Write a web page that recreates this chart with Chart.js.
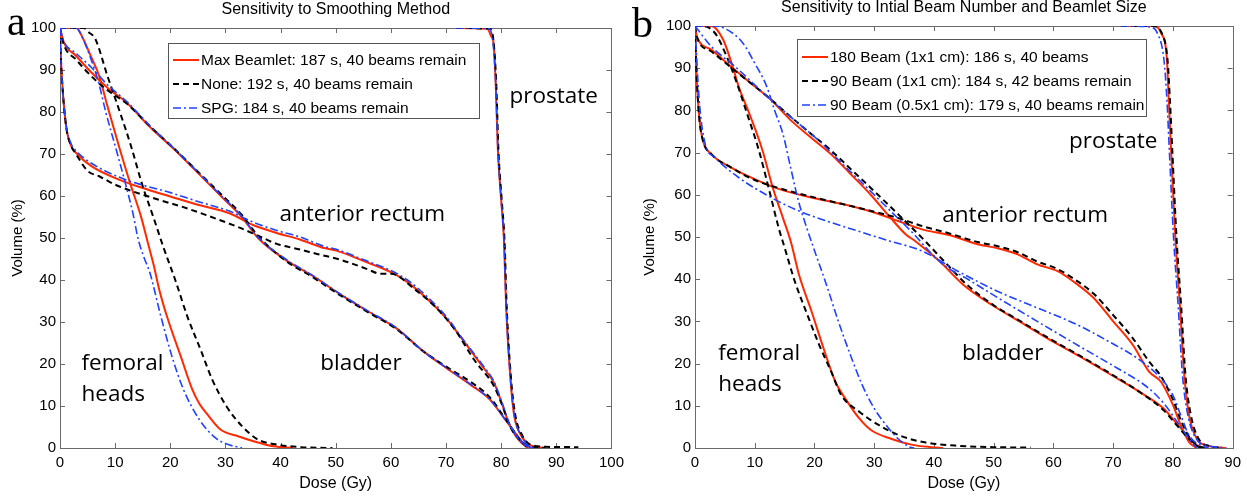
<!DOCTYPE html>
<html>
<head>
<meta charset="utf-8">
<script src="https://cdn.jsdelivr.net/npm/chart.js@4.4.0/dist/chart.umd.min.js"></script>
<style>
  body { margin: 0; background: #fff; width: 1247px; height: 498px; overflow: hidden; position: relative; }
  canvas { position: absolute; top: 0; }
  #chartA { left: 0; }
  #chartB { left: 630px; }
</style>
</head>
<body>
<canvas id="chartA" width="630" height="498"></canvas>
<canvas id="chartB" width="617" height="498"></canvas>
<script>
// legend texts and organ names
const seriesA = ['Max Beamlet: 187 s, 40 beams remain', 'None: 192 s, 40 beams remain', 'SPG: 184 s, 40 beams remain'];
const seriesB = ['180 Beam (1x1 cm): 186 s, 40 beams', '90 Beam (1x1 cm): 184 s, 42 beams remain', '90 Beam (0.5x1 cm): 179 s, 40 beams remain'];
const organs = ['prostate', 'anterior rectum', 'femoral heads', 'bladder'];
const doseMaxA = 100;
const doseMaxB = 90;

// panel a: [dose (Gy), volume (%)]
const aProstateMax = [[71.8,100],[77.5,99.8],[78.2,98],[78.6,96.6],[79,87],[79.4,71],[80,59],[80.5,49.6],[80.9,33.7],[81.6,17.9],[82.3,8.3],[83.7,2.8],[85.1,0.8],[88,0]];
const aProstateNone = [[71.8,100],[77.9,99.8],[78.6,97],[79.1,87],[79.5,71],[80.1,59],[80.6,49.6],[81,33.7],[81.7,17.9],[82.5,8.3],[83.9,2.8],[85.3,0.8],[88,0.3],[94,0.2]];
const aProstateSpg = [[71.8,100],[77.8,99.8],[78.5,96.6],[79,87],[79.4,71],[80,59],[80.5,49.6],[80.9,33.7],[81.6,17.9],[82.3,8.3],[83.7,2.8],[85,0.5],[86.5,0]];

const aRectumMax = [[0,100],[0.1,95],[0.4,87],[1.1,76.7],[2,72],[2.9,70.3],[5.7,67.1],[10.7,63.9],[15,61.9],[20,59.9],[25,57.9],[30.7,55.9],[35,53.1],[39.3,51.2],[43.6,49.6],[47.9,47.6],[50.1,47],[55.1,44.5],[60.1,41.8],[63,39.5],[66.6,35.5],[70.1,30.8],[73,25.8],[76.6,19.4],[78.7,15.5],[80.1,10.7],[81.6,5.2],[83.7,1.2],[85.5,0]];
const aRectumNone = [[0,100],[0.1,95],[0.4,87],[1.1,76.7],[2,72],[2.9,70],[5,66],[7.1,64.7],[10,62.7],[17.9,59.1],[22,57.5],[26.4,55.5],[32.1,52.7],[36,50.5],[39.3,48.6],[43.7,47.2],[46.6,46.2],[50.9,44.8],[55.9,42.5],[58,41.5],[60,41.5],[64.4,37.7],[68,33.7],[71.6,28.2],[75.1,21],[78.7,14.7],[80.1,10.5],[81.6,5.2],[83.7,1.5],[85.5,0.3],[88,0]];
const aRectumSpg = [[0,100],[0.1,95],[0.4,87],[1.1,77],[2,72.5],[2.9,70.8],[5.7,67.8],[10.7,64.5],[15,62.6],[20,60.8],[25,58.7],[30.7,56.4],[35,53.8],[39.3,51.8],[43.6,50.2],[47.9,48],[50.1,47.3],[55.1,44.8],[60.1,42.2],[63,40],[66.6,36],[70.1,31.2],[73,26],[76.6,19.8],[78.7,15.8],[80.1,11],[81.6,5.5],[83.7,1.3],[85.5,0]];

const aFemoralMax = [[0,100],[3,100],[3.6,99],[5.7,93],[7.1,88.6],[8.6,81.4],[10.7,71.8],[12.9,62.3],[14.6,55.5],[16,48.5],[17,43.5],[18,37.7],[19.4,31.3],[21.9,21.8],[24,13.9],[25.3,10.5],[26.8,7.9],[29.1,4.4],[32.3,2.8],[35.1,1.6],[38.7,0.4],[42.3,0]];
const aFemoralNone = [[0,100],[4.3,100],[5.2,99],[6.4,97.4],[8.6,88.6],[10.7,80.6],[12.9,71.8],[15,62.3],[16.9,55.1],[18.7,48],[20.9,40],[23.1,31.3],[25.5,23.4],[27.6,16.3],[30.2,9.9],[33,5.2],[35.9,2],[39.4,0.8],[43.7,0.2],[49.4,0]];
const aFemoralSpg = [[0,100],[3,100],[3.6,99],[5.5,93],[7,87],[8.3,80],[10.2,71],[12,62.3],[13.2,56],[14.2,49.6],[15.2,45.5],[16.3,41.7],[18.3,31.3],[20.3,21.8],[22.4,13.9],[25.3,6.7],[28.2,2.4],[30.1,1],[33,0]];

const aBladderMax = [[0,100],[0.7,96.6],[2.9,93.4],[5.7,89.4],[8.6,85.8],[12.1,82.2],[16.4,76.3],[20.7,71.1],[25,65.5],[29.3,59.8],[32.9,55.1],[35.9,50],[40.9,44.8],[45.9,40.9],[50.9,36.5],[55.9,32.5],[60.9,28.6],[65.9,23],[70.1,19],[74.4,15.1],[78,11.5],[80.1,7.9],[82.3,4],[83.7,1.6],[84.8,0]];
const aBladderNone = [[0,100],[0.7,96],[2.9,92.5],[5.7,88.5],[8.6,85.2],[12.1,82],[16.4,76.5],[20.7,71.3],[25,65.8],[29.3,60.3],[32.9,55.6],[35.9,50.5],[40.9,44.6],[45.9,40.6],[50.9,36.3],[55.9,32.3],[60.9,28.4],[65.9,23],[70.1,19.3],[74.4,15.8],[78,12],[80.1,8.2],[82.3,4],[83.7,1.5],[84.8,0]];
const aBladderSpg = [[0,100],[0.7,96.8],[2.9,94],[5.7,90.6],[8.6,86.5],[12.1,82.5],[16.4,76.6],[20.7,71.3],[25,65.7],[29.3,60],[32.9,55.3],[35.9,50.2],[40.9,45],[45.9,41],[50.9,36.6],[55.9,32.6],[60.9,28.7],[65.9,23],[70.1,19.1],[74.4,15.2],[78,11.5],[80.1,7.9],[82.3,4],[83.7,1.6],[84.8,0]];

// panel b: [dose (Gy), volume (%)]
const bProstate180 = [[71.3,100],[76.7,100],[78,98.4],[79,92],[79.3,82.5],[79.7,70.5],[80.4,50],[81.2,33.2],[81.9,17.3],[82.7,7.8],[84,2.2],[86,0.5],[88.7,0]];
const bProstate90 = [[71.3,100],[76.7,100],[78.1,98.4],[79.1,92],[79.5,82.5],[79.9,70.5],[80.6,50],[81.4,33.2],[82.1,17.3],[83,7.8],[84.3,2.2],[86.3,0.4],[88,0]];
const bProstate90Half = [[71.3,100],[76,99.8],[77.5,98],[78.5,92],[79,82.5],[79.4,70.5],[80.1,50],[80.9,33.2],[81.6,17.3],[82.5,7.8],[84,2],[86,0.5],[89,0]];

const bRectum180 = [[0,100],[0.2,90.4],[0.7,78.5],[1.3,73],[2.7,69.7],[6,66.5],[10,63.7],[14,61.4],[19.3,59.4],[24.7,57.8],[30,55.8],[34,53.8],[38,51.8],[42.7,50.4],[47.3,48.3],[50.7,47.3],[54,45.9],[57.3,43.5],[60.7,41.9],[63.3,39.5],[66.7,35.6],[70,30],[73.3,24.4],[76,18.1],[78,15.7],[80,10.2],[81.3,5.4],[82.7,1.4],[84,0]];
const bRectum90 = [[0,100],[0.2,90.4],[0.7,78.5],[1.3,73],[2.7,69.7],[6,66.5],[10,63.5],[14,61.6],[19.3,59.6],[24.7,57.8],[30,56],[34,54.5],[38,52.6],[42.7,50.8],[47.3,48.8],[50.7,47.8],[54,46.4],[57.3,44.2],[60.7,42.4],[63.3,40.2],[66.7,36.6],[70,31.5],[73.3,26],[76,20.5],[78,17],[80,11.5],[81.5,6],[83,2],[84.5,0.3],[86,0]];
const bRectum90Half = [[0,100],[0.7,82.5],[1.7,72.1],[3.3,68.9],[7.3,64.1],[12.7,59.4],[16.7,56.6],[22,53.8],[27.3,51.4],[32.7,49],[38,46.7],[44,41.9],[50.7,37.1],[57.3,33.2],[64,29.2],[69.3,25.2],[74,21.3],[78,16.5],[80,12.5],[81.3,7.8],[82.7,3],[84.7,0.6],[86,0]];

const bFemoral180 = [[0,100],[2.7,100],[4.7,96.8],[6.3,90.4],[7.3,85.7],[9.3,78.5],[11.3,70.5],[13,61.8],[14.7,54.6],[16.1,48.6],[17.4,41.1],[19.5,32.4],[21.5,23.7],[23.5,15.7],[25.5,11],[27.5,7],[29.5,4.2],[32.8,2.2],[36.2,0.8],[39.5,0.2],[41.5,0]];
const bFemoral90 = [[0,100],[1,100],[3.3,98.4],[5.3,92.8],[7,86.5],[8.7,79.3],[10.7,70.5],[12.3,61.8],[14,52.2],[15,47.5],[16.7,39.5],[18.8,31.6],[20.8,24.4],[22.8,18.1],[24.5,12.5],[27.5,8.6],[30.8,5.4],[34.2,3],[38.2,1.4],[44.2,0.5],[50,0.2],[56.2,0.1]];
const bFemoral90Half = [[0,100],[3.3,100],[5.3,99.2],[8,96],[10,91.2],[12,85.7],[13.3,80.1],[14.7,74.5],[16,66.5],[17.3,58.6],[18.7,52.2],[20,46.8],[22,38.7],[24,30],[26,22.1],[28,14.9],[30,9.4],[32,5.4],[34,2.2],[36,0.2],[36.7,0]];

const bBladder180 = [[0,100],[0.3,97.6],[2.7,94.4],[6,90.4],[9.3,86.5],[12.7,82.5],[16,77.7],[19.3,73.7],[22.7,69.7],[26,65],[29.3,60.2],[32.7,54.6],[35.3,50.6],[36.9,49],[40.9,44.3],[44.9,38.7],[49.6,34],[54.3,30],[59,26],[64.4,21.7],[69.7,17.3],[74.4,13.3],[78.4,9.4],[80.4,6.2],[82.4,3],[84.1,0.6],[84.8,0]];
const bBladder90 = [[0,100],[0.3,97.4],[2.7,94],[6,90.2],[9.3,86.5],[12.7,82.6],[16,78.5],[19.3,74.6],[22.7,70.6],[26,66.2],[29.3,61.8],[34,55.4],[38.2,49.5],[42.2,43.5],[45.5,38.7],[49.6,34.2],[54.3,30.2],[59,26.2],[64.4,21.9],[69.7,17.5],[74.4,13.3],[78.4,9],[80.4,5.8],[82.4,2.6],[84,0.5],[85,0]];
const bBladder90Half = [[0,100],[2.7,95.2],[6.7,90.4],[12.7,82.5],[18,76.1],[20.7,72.9],[24.7,67.3],[28.7,61.8],[32.7,56.2],[36.7,50.6],[39.3,46.5],[42,43],[45.3,40.3],[50.7,35.6],[57.3,30],[64,24.4],[70.7,18.9],[76,14.1],[78.7,10.2],[80.7,6.2],[82.7,2.2],[84,0]];

const FONT = '"Liberation Sans", Arial, sans-serif';
const seriesStyle = [
  { color: '#ff2a00', width: 2, dash: [], order: 3 },
  { color: '#000000', width: 2, dash: [6, 4], order: 2 },
  { color: '#1f43ff', width: 1.6, dash: [8, 3, 2, 3], order: 1 }
];

function makeSets(groups) {
  const sets = [];
  groups.forEach(curves => {
    curves.forEach((pts, i) => {
      const s = seriesStyle[i];
      sets.push({
        data: pts,
        borderColor: s.color,
        borderWidth: s.width,
        borderDash: s.dash,
        order: s.order,
        pointRadius: 0,
        fill: false,
        cubicInterpolationMode: 'monotone'
      });
    });
  });
  return sets;
}

// box + inward ticks like the original figure
const frameTicks = {
  id: 'frameTicks',
  beforeDatasetsDraw(chart) {
    const { ctx, chartArea: { left, right, top, bottom }, scales: { x, y } } = chart;
    ctx.save();
    ctx.strokeStyle = '#6a6a6a';
    ctx.lineWidth = 1;
    ctx.beginPath();
    x.ticks.forEach(t => {
      const px = Math.round(x.getPixelForValue(t.value)) + 0.5;
      ctx.moveTo(px, bottom); ctx.lineTo(px, bottom - 5);
      ctx.moveTo(px, top); ctx.lineTo(px, top + 5);
    });
    y.ticks.forEach(t => {
      const py = Math.round(y.getPixelForValue(t.value)) + 0.5;
      ctx.moveTo(left, py); ctx.lineTo(left + 5, py);
      ctx.moveTo(right, py); ctx.lineTo(right - 5, py);
    });
    ctx.stroke();
    ctx.strokeRect(Math.round(left) + 0.5, Math.round(top) + 0.5, Math.round(right - left), Math.round(bottom - top));
    ctx.restore();
  }
};

// title, panel letter and organ names
const panelText = {
  id: 'panelText',
  afterDraw(chart, args, opts) {
    const { ctx, chartArea, scales: { x, y } } = chart;
    ctx.save();
    ctx.fillStyle = '#000';
    ctx.textAlign = 'center';
    ctx.textBaseline = 'middle';
    ctx.font = '16px ' + FONT;
    ctx.fillText(opts.title, (chartArea.left + chartArea.right) / 2, opts.titleY);
    ctx.textAlign = 'left';
    ctx.textBaseline = 'alphabetic';
    ctx.font = '42px "Liberation Serif", "Times New Roman", serif';
    ctx.fillText(opts.tag, opts.tagX, opts.tagY);
    ctx.font = '22.5px "Open Sans", Lato, sans-serif';
    opts.labels.forEach(l => {
      ctx.fillText(l.text, x.getPixelForValue(l.x), y.getPixelForValue(l.y));
    });
    ctx.restore();
  }
};

// framed legend inside the axes
const boxLegend = {
  id: 'boxLegend',
  afterDraw(chart, args, opts) {
    const { ctx } = chart;
    ctx.save();
    ctx.fillStyle = '#fff';
    ctx.fillRect(opts.x, opts.y, opts.w, opts.h);
    ctx.strokeStyle = '#555';
    ctx.lineWidth = 1;
    ctx.strokeRect(opts.x + 0.5, opts.y + 0.5, opts.w, opts.h);
    ctx.font = '15.5px ' + FONT;
    ctx.textBaseline = 'middle';
    opts.items.forEach((text, i) => {
      const s = seriesStyle[i];
      const cy = opts.y + opts.firstRow + i * opts.rowH;
      ctx.strokeStyle = s.color;
      ctx.lineWidth = s.width;
      ctx.setLineDash(s.dash);
      ctx.beginPath();
      ctx.moveTo(opts.x + 5, cy);
      ctx.lineTo(opts.x + 31, cy);
      ctx.stroke();
      ctx.setLineDash([]);
      ctx.fillStyle = '#000';
      ctx.fillText(text, opts.x + 33, cy + 1);
    });
    ctx.restore();
  }
};

function makePanel(id, p) {
  return new Chart(document.getElementById(id), {
    type: 'line',
    data: { datasets: makeSets(p.groups) },
    plugins: [frameTicks, panelText, boxLegend],
    options: {
      responsive: false,
      animation: false,
      events: [],
      layout: { padding: { top: p.top, right: p.right, left: 0, bottom: 0 } },
      scales: {
        x: {
          type: 'linear', min: 0, max: p.xMax,
          grid: { display: false, drawTicks: false },
          border: { display: false },
          ticks: { stepSize: 10, color: '#000', padding: 6, maxRotation: 0, autoSkip: false, font: { family: FONT, size: 15 } },
          title: { display: true, text: 'Dose (Gy)', color: '#000', font: { family: FONT, size: 16 }, padding: { top: 0, bottom: 5 } },
          afterFit: s => { s.height = 50; }
        },
        y: {
          min: 0, max: 100,
          grid: { display: false, drawTicks: false },
          border: { display: false },
          ticks: { stepSize: 10, color: '#000', padding: 4, font: { family: FONT, size: 15 } },
          title: { display: true, text: 'Volume (%)', color: '#000', font: { family: FONT, size: 15 }, padding: { top: p.yTitlePad, bottom: 0 } },
          afterFit: s => { s.width = p.yWidth; }
        }
      },
      plugins: {
        legend: { display: false },
        tooltip: { enabled: false },
        panelText: { title: p.title, titleY: p.titleY, tag: p.tag, tagX: p.tagX, tagY: p.tagY, labels: p.labels },
        boxLegend: p.legend
      }
    }
  });
}

makePanel('chartA', {
  groups: [
    [aProstateMax, aProstateNone, aProstateSpg],
    [aRectumMax, aRectumNone, aRectumSpg],
    [aFemoralMax, aFemoralNone, aFemoralSpg],
    [aBladderMax, aBladderNone, aBladderSpg]
  ],
  xMax: doseMaxA, top: 28, right: 9, yWidth: 60, yTitlePad: 9,
  title: 'Sensitivity to Smoothing Method', titleY: 10,
  tag: 'a', tagX: 7, tagY: 35,
  labels: [
    { text: organs[0], x: 81.5, y: 82.1 },
    { text: organs[1], x: 39.8, y: 54 },
    { text: 'femoral', x: 3.9, y: 18.6 },
    { text: 'heads', x: 3.9, y: 11.2 },
    { text: organs[3], x: 47.2, y: 18.6 }
  ],
  legend: { x: 168, y: 43, w: 311, h: 75, firstRow: 17, rowH: 24, items: seriesA }
});

makePanel('chartB', {
  groups: [
    [bProstate180, bProstate90, bProstate90Half],
    [bRectum180, bRectum90, bRectum90Half],
    [bFemoral180, bFemoral90, bFemoral90Half],
    [bBladder180, bBladder90, bBladder90Half]
  ],
  xMax: doseMaxB, top: 26, right: 13, yWidth: 65, yTitlePad: 11,
  title: 'Sensitivity to Intial Beam Number and Beamlet Size', titleY: 8,
  tag: 'b', tagX: 2, tagY: 37,
  labels: [
    { text: organs[0], x: 62.6, y: 71 },
    { text: organs[1], x: 41.4, y: 53.5 },
    { text: 'femoral', x: 3.9, y: 20.9 },
    { text: 'heads', x: 3.9, y: 13.5 },
    { text: organs[3], x: 44.7, y: 20.9 }
  ],
  legend: { x: 167, y: 39, w: 349, h: 77, firstRow: 18, rowH: 24, items: seriesB }
});
</script>
</body>
</html>
